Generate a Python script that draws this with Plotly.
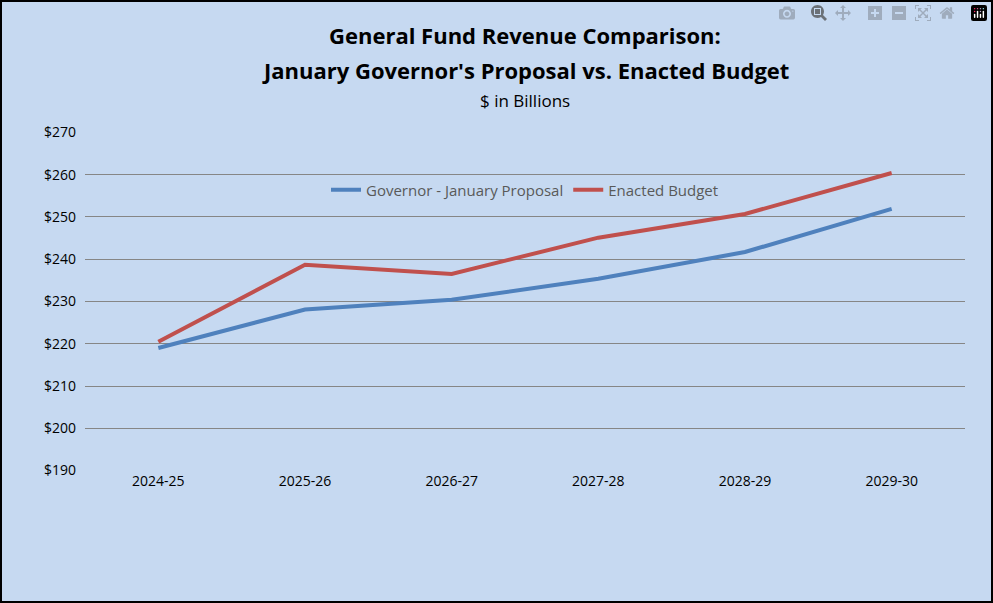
import plotly.graph_objects as go

years = ["2024-25", "2025-26", "2026-27", "2027-28", "2028-29", "2029-30"]
governor = [219.0, 228.1, 230.4, 235.4, 241.7, 251.9]
enacted = [220.5, 238.7, 236.5, 245.1, 250.7, 260.4]

W, H = 993, 603
L, R, T, B = 85, 28, 132, 132
pw, ph = W - L - R, H - T - B

fig = go.Figure()
fig.add_trace(go.Scatter(x=years, y=governor, mode="lines", name="Governor - January Proposal",
                         line=dict(color="#4F81BD", width=4)))
fig.add_trace(go.Scatter(x=years, y=enacted, mode="lines", name="Enacted Budget",
                         line=dict(color="#C0504D", width=4)))

fig.update_layout(
    width=W, height=H,
    margin=dict(l=L, r=R, t=T, b=B),
    paper_bgcolor="#C6D9F1", plot_bgcolor="#C6D9F1",
    font=dict(family="Open Sans, Arial", size=14, color="black"),
    showlegend=True,
    legend=dict(orientation="h", x=0.5, xanchor="center", y=-(H - B - 545 + T - ph) / ph, yanchor="middle",
                font=dict(size=15, color="#595959"), bgcolor="rgba(0,0,0,0)"),
    xaxis=dict(type="category", range=[-0.5, 5.5], showgrid=False, ticks="",
               showline=False, tickfont=dict(size=14)),
    yaxis=dict(range=[189.9, 270.1], dtick=10, tickprefix="$", gridcolor="#868686", gridwidth=1,
               showline=False, zeroline=False, tickfont=dict(size=14), ticklabelstandoff=8),
)

fig.add_annotation(xref="paper", yref="paper", x=0.5, y=1 + 97 / ph, xanchor="center", yanchor="middle",
                   text="<b>General Fund Revenue Comparison:</b>", showarrow=False, font=dict(size=22))
fig.add_annotation(xref="paper", yref="paper", x=0.5, y=1 + 62 / ph, xanchor="center", yanchor="middle",
                   text="<b>January Governor's Proposal vs. Enacted Budget</b>", showarrow=False, font=dict(size=22))
fig.add_annotation(xref="paper", yref="paper", x=0.5, y=1 + 31 / ph, xanchor="center", yanchor="middle",
                   text="$ in Billions", showarrow=False, font=dict(size=17))

fig.add_shape(type="rect", xref="paper", yref="paper",
              x0=-(L - 1) / pw, x1=1 + (R - 1) / pw, y0=-(B - 1) / ph, y1=1 + (T - 1) / ph,
              line=dict(color="black", width=2), fillcolor="rgba(0,0,0,0)", layer="above")

fig.write_html("out.html", post_script="document.body.style.margin='0';")
